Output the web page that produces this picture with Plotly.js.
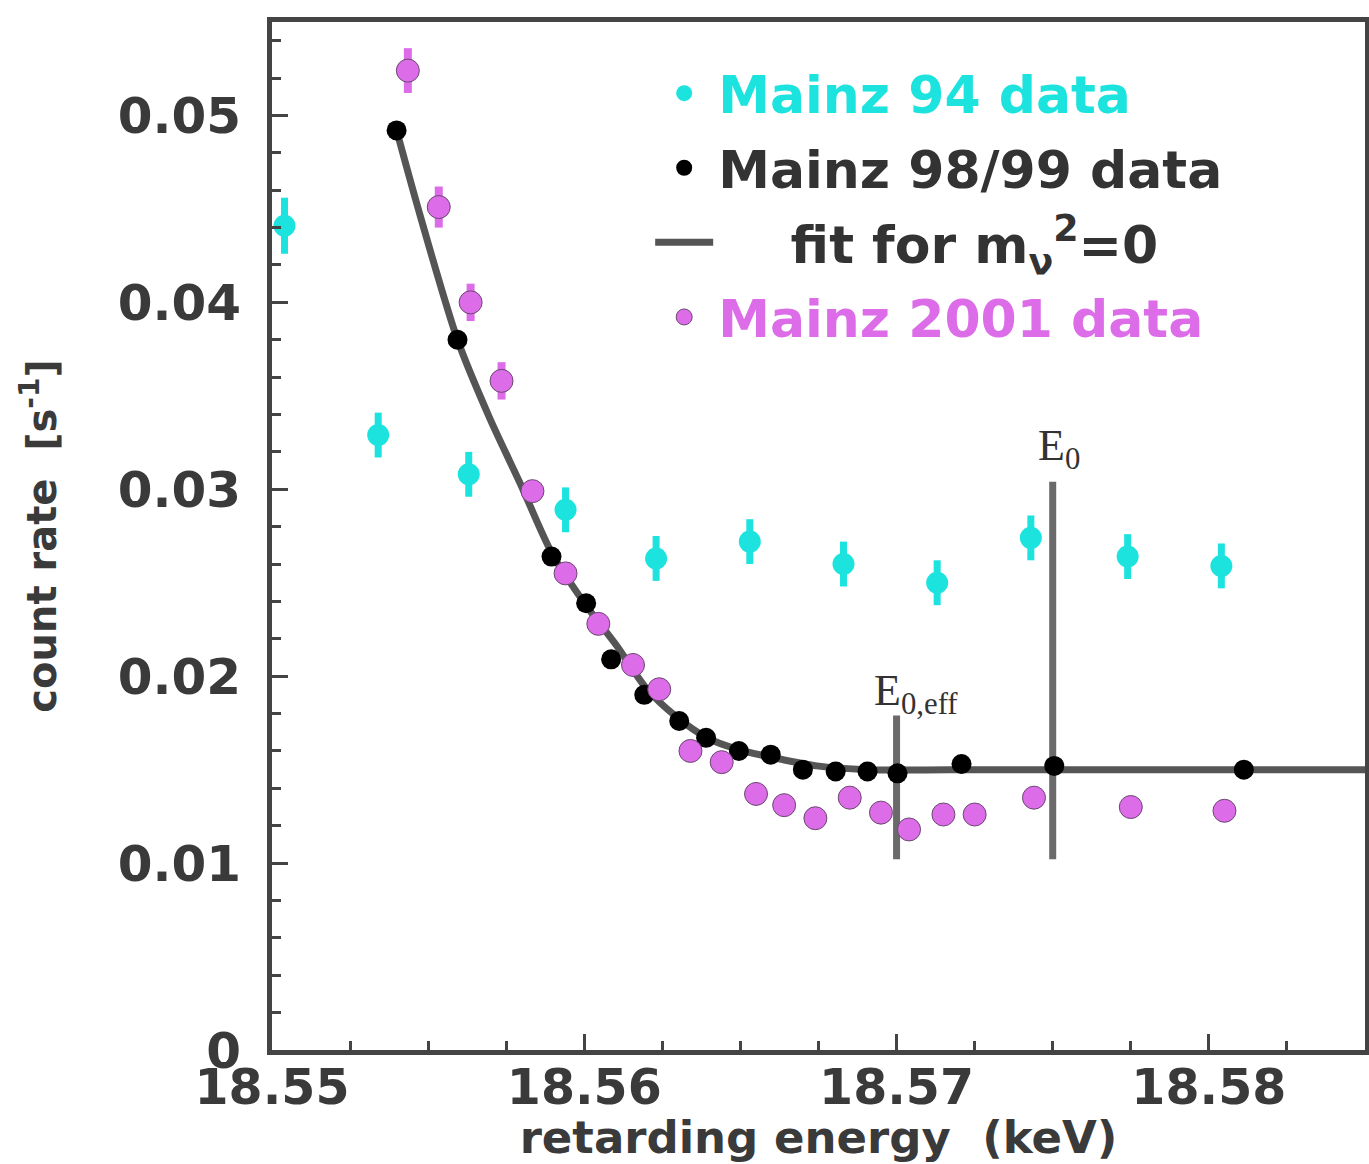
<!DOCTYPE html>
<html>
<head>
<meta charset="utf-8">
<script src="https://cdn.plot.ly/plotly-3.0.1.min.js"></script>
<style>html,body{margin:0;padding:0;background:#fff;}#chart{width:1369px;height:1164px;}</style>
</head>
<body>
<div id="chart"></div>
<script>
// ---- data ----
const mainz94X = [18.5504, 18.5534, 18.5563, 18.5594, 18.5623, 18.5653, 18.5683, 18.5713, 18.5743, 18.5774, 18.5804];
const mainz94Y = [0.0441, 0.0329, 0.0308, 0.0289, 0.0263, 0.0272, 0.0260, 0.0250, 0.0274, 0.0264, 0.0259];
const mainz94Err = [0.0015, 0.0012, 0.0012, 0.0012, 0.0012, 0.0012, 0.0012, 0.0012, 0.0012, 0.0012, 0.0012];

const mainz98X = [18.55399, 18.55594, 18.55895, 18.56006, 18.56086, 18.56192, 18.56304, 18.56390, 18.56495, 18.56597, 18.56700, 18.56805, 18.56907, 18.57003, 18.57208, 18.57505, 18.58112];
const mainz98Y = [0.0492, 0.0380, 0.0264, 0.0239, 0.0209, 0.0190, 0.0176, 0.0167, 0.0160, 0.0158, 0.0150, 0.0149, 0.0149, 0.0148, 0.0153, 0.0152, 0.0150];

const fitX = [18.55399, 18.55476, 18.55594, 18.55696, 18.55796, 18.55898, 18.56010, 18.56105, 18.56201, 18.56297, 18.56393, 18.56489, 18.56617, 18.56744, 18.56904, 18.57319, 18.58500];
const fitY = [0.0492, 0.04455, 0.0380, 0.03385, 0.03027, 0.02652, 0.02369, 0.0216, 0.0193, 0.0178, 0.0167, 0.0161, 0.0156, 0.0152, 0.0150, 0.0150, 0.0150];

const mainz01X = [18.55435, 18.55534, 18.55636, 18.55735, 18.55834, 18.5594, 18.56045, 18.56156, 18.5624, 18.5634, 18.5644, 18.5655, 18.5664, 18.5674, 18.5685, 18.5695, 18.5704, 18.5715, 18.5725, 18.5744, 18.5775, 18.5805];
const mainz01Y = [0.0524, 0.0451, 0.0400, 0.0358, 0.0299, 0.0255, 0.0228, 0.0206, 0.0193, 0.0160, 0.0154, 0.0137, 0.0131, 0.0124, 0.0135, 0.0127, 0.0118, 0.0126, 0.0126, 0.0135, 0.0130, 0.0128];
const mainz01Err = [0.0012, 0.0011, 0.0010, 0.0010, 0, 0, 0, 0, 0, 0, 0, 0, 0, 0, 0, 0, 0, 0, 0, 0, 0, 0];

const e0EffX = [18.5700, 18.5700];
const e0EffY = [0.0102, 0.0179];
const e0X = [18.5750, 18.5750];
const e0Y = [0.0102, 0.0304];

const xTickVals = [18.55, 18.56, 18.57, 18.58];
const xTickText = ['18.55', '18.56', '18.57', '18.58'];
const yTickVals = [0, 0.01, 0.02, 0.03, 0.04, 0.05];
const yTickText = ['0', '0.01', '0.02', '0.03', '0.04', '0.05'];

// ---- styles ----
const cyan = '#1de3df';
const magenta = '#dc6ce8';
const axisCol = '#444444';
const rounded = 'DejaVu Sans, Liberation Sans, sans-serif';
const serif = '"Liberation Serif", "Times New Roman", serif';

const traces = [
  {
    x: e0EffX, y: e0EffY, mode: 'lines', showlegend: false, hoverinfo: 'skip',
    line: {color: '#6a6a6a', width: 7}
  },
  {
    x: e0X, y: e0Y, mode: 'lines', showlegend: false, hoverinfo: 'skip',
    line: {color: '#6a6a6a', width: 7}
  },
  {
    x: fitX, y: fitY, mode: 'lines', name: '\u00a0\u00a0\u00a0\u00a0fit for m<sub>ν</sub><sup>2</sup>=0',
    legendrank: 3, legendgroup: 'c',
    line: {color: '#555555', width: 7, shape: 'spline', smoothing: 0.8}
  },
  {
    x: mainz94X, y: mainz94Y, mode: 'markers',
    name: '<span style="color:' + cyan + '">Mainz 94 data</span>',
    legendrank: 1, legendgroup: 'a',
    marker: {color: cyan, size: 22, symbol: 'circle'},
    error_y: {type: 'data', array: mainz94Err, visible: true, color: cyan, thickness: 7, width: 0}
  },
  {
    x: mainz98X, y: mainz98Y, mode: 'markers',
    name: '<span style="color:#333333">Mainz 98/99 data</span>',
    legendrank: 2, legendgroup: 'b',
    marker: {color: '#000000', size: 20, symbol: 'circle'}
  },
  {
    x: mainz01X, y: mainz01Y, mode: 'markers',
    name: '<span style="color:' + magenta + '">Mainz 2001 data</span>',
    legendrank: 4, legendgroup: 'd',
    marker: {color: magenta, size: 23, symbol: 'circle', line: {color: '#6b4870', width: 1}},
    error_y: {type: 'data', array: mainz01Err, visible: true, color: magenta, thickness: 8, width: 0}
  }
];

const layout = {
  width: 1369, height: 1164,
  paper_bgcolor: '#ffffff', plot_bgcolor: '#ffffff',
  margin: {l: 272, r: 4, t: 22, b: 114},
  showlegend: true,
  legend: {
    x: 0.346, y: 0.970, xanchor: 'left', yanchor: 'top',
    bgcolor: 'rgba(0,0,0,0)', borderwidth: 0,
    traceorder: 'grouped', tracegroupgap: 4, itemwidth: 58,
    font: {family: rounded, size: 52, weight: 'bold', color: '#333333'}
  },
  xaxis: {
    range: [18.55, 18.585],
    tickvals: xTickVals, ticktext: xTickText,
    ticks: 'inside', ticklen: 16, tickwidth: 3, tickcolor: axisCol,
    minor: {dtick: 0.0025, tick0: 18.55, ticks: 'inside', ticklen: 9, tickwidth: 3, tickcolor: axisCol},
    showline: true, linecolor: axisCol, linewidth: 5, mirror: true,
    showgrid: false, zeroline: false,
    ticklabelstandoff: -10,
    tickfont: {family: rounded, size: 49, weight: 'bold', color: '#3a3a3a'},
    title: {text: 'retarding energy  (keV)', standoff: 12,
            font: {family: rounded, size: 45, weight: 'bold', color: '#3a3a3a'}}
  },
  yaxis: {
    range: [0, 0.055],
    tickvals: yTickVals, ticktext: yTickText,
    ticks: 'inside', ticklen: 16, tickwidth: 3, tickcolor: axisCol,
    minor: {dtick: 0.002, tick0: 0, ticks: 'inside', ticklen: 9, tickwidth: 3, tickcolor: axisCol},
    showline: true, linecolor: axisCol, linewidth: 5, mirror: true,
    showgrid: false, zeroline: false,
    ticklabelstandoff: 16,
    tickfont: {family: rounded, size: 50, weight: 'bold', color: '#3a3a3a'},
    title: {text: 'count rate  [s<sup>-1</sup>]', standoff: 50,
            font: {family: rounded, size: 40, weight: 'bold', color: '#3a3a3a'}}
  },
  annotations: [
    {x: 18.57447, y: 0.0322, xref: 'x', yref: 'y', xanchor: 'left', yanchor: 'middle', showarrow: false,
     text: 'E<sub>0</sub>', font: {family: serif, size: 44, color: '#333333'}},
    {x: 18.5692, y: 0.0191, xref: 'x', yref: 'y', xanchor: 'left', yanchor: 'middle', showarrow: false,
     text: 'E<sub>0,eff</sub>', font: {family: serif, size: 44, color: '#333333'}}
  ]
};

Plotly.newPlot('chart', traces, layout, {displayModeBar: false, staticPlot: true});
</script>
</body>
</html>
